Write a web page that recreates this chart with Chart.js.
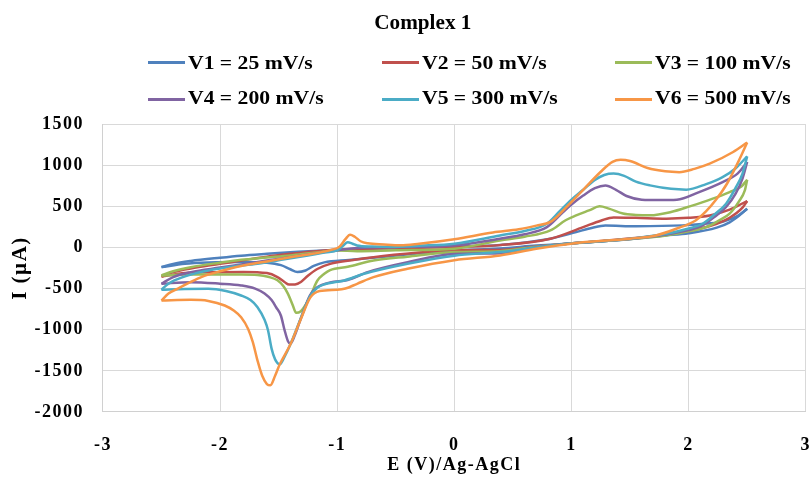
<!DOCTYPE html>
<html>
<head>
<meta charset="utf-8">
<script src="https://cdn.jsdelivr.net/npm/chart.js@4.4.1/dist/chart.umd.min.js"></script>
<style>
html,body{margin:0;padding:0;background:#fff;}
#wrap{position:relative;width:811px;height:480px;overflow:hidden;}
#c{position:absolute;left:0;top:0;}
.txt{position:absolute;font-family:"Liberation Serif","Times New Roman",serif;font-weight:bold;color:#000;white-space:nowrap;}
.sw{position:absolute;height:3px;width:37px;}
</style>
</head>
<body>
<div id="wrap">
<canvas id="c" width="811" height="480"></canvas>
<div id="title" class="txt" style="left:0;width:846px;top:10px;text-align:center;font-size:20px;line-height:24px;"><span style="display:inline-block;transform:scaleX(1.06);">Complex 1</span></div>
<div id="legend"></div>
</div>
<script>
// ---- data ----
const chartTitle = "Complex 1";
const seriesLabels = ["V1 = 25 mV/s", "V2 = 50 mV/s", "V3 = 100 mV/s", "V4 = 200 mV/s", "V5 = 300 mV/s", "V6 = 500 mV/s"];
const seriesColors = ["#4F81BD", "#C0504D", "#9BBB59", "#8064A2", "#4BACC6", "#F79646"];
const xTickValues = [-3, -2, -1, 0, 1, 2, 3];
const xTickLabels = ["-3", "-2", "-1", "0", "1", "2", "3"];
const yTickValues = [-2000, -1500, -1000, -500, 0, 500, 1000, 1500];
const yTickLabels = ["-2000", "-1500", "-1000", "-500", "0", "500", "1000", "1500"];

// anodic (forward, upper) and cathodic (reverse, lower) branches, [E (V), I (µA)]
const v1Anodic = [[-2.5,-239],[-2.4,-200],[-2.25,-165],[-2.0,-125],[-1.82,-100],[-1.6,-78],[-1.4,-60],[-1.2,-42],[-1.0,-28],[-0.7,-15],[-0.3,0],[0,12],[0.39,30],[0.82,106],[1.04,186],[1.18,240],[1.29,265],[1.55,258],[1.95,268],[2.15,290],[2.29,312],[2.42,385],[2.5,470]];
const v1Cathodic = [[-2.5,-239],[-2.3,-198],[-2.1,-182],[-1.8,-176],[-1.6,-185],[-1.48,-215],[-1.4,-265],[-1.34,-298],[-1.27,-280],[-1.2,-225],[-1.11,-182],[-0.9,-152],[-0.6,-112],[-0.3,-72],[0,-40],[0.39,-12],[0.7,22],[1.01,50],[1.4,90],[1.8,145],[2.0,172],[2.24,240],[2.35,305],[2.43,385],[2.5,470]];
const v2Anodic = [[-2.5,-355],[-2.4,-300],[-2.25,-255],[-2.0,-200],[-1.82,-160],[-1.6,-112],[-1.4,-78],[-1.2,-48],[-1.0,-28],[-0.83,-18],[-0.5,-8],[0,5],[0.39,28],[0.82,106],[1.1,247],[1.25,325],[1.36,365],[1.55,360],[1.81,350],[2.0,360],[2.18,389],[2.35,460],[2.5,564]];
const v2Cathodic = [[-2.5,-355],[-2.3,-312],[-2.1,-302],[-1.8,-298],[-1.6,-312],[-1.51,-360],[-1.45,-420],[-1.41,-452],[-1.36,-450],[-1.31,-420],[-1.25,-345],[-1.17,-262],[-1.06,-200],[-0.85,-150],[-0.69,-118],[-0.3,-62],[0,-30],[0.39,-30],[0.7,12],[1.01,50],[1.4,95],[1.95,186],[2.1,230],[2.24,288],[2.35,360],[2.46,483],[2.5,564]];
const v3Anodic = [[-2.5,-341],[-2.4,-290],[-2.25,-240],[-2.0,-185],[-1.82,-150],[-1.6,-122],[-1.4,-97],[-1.2,-65],[-1.0,-38],[-0.83,-45],[-0.5,-35],[0,-16],[0.39,85],[0.6,130],[0.82,207],[0.95,330],[1.04,389],[1.15,450],[1.24,499],[1.32,472],[1.44,412],[1.55,395],[1.67,390],[1.85,430],[2.01,499],[2.2,590],[2.35,673],[2.45,740],[2.5,823]];
const v3Cathodic = [[-2.5,-341],[-2.3,-330],[-2.1,-328],[-1.85,-330],[-1.68,-335],[-1.58,-360],[-1.51,-400],[-1.46,-470],[-1.42,-565],[-1.38,-700],[-1.35,-795],[-1.31,-775],[-1.27,-700],[-1.22,-560],[-1.17,-405],[-1.11,-320],[-1.06,-275],[-0.91,-235],[-0.69,-160],[-0.4,-112],[0,-57],[0.39,-45],[0.7,8],[1.01,50],[1.4,90],[1.81,146],[2.0,195],[2.15,247],[2.25,320],[2.35,410],[2.43,560],[2.48,693],[2.5,823]];
const v4Anodic = [[-2.5,-442],[-2.4,-360],[-2.25,-300],[-2.0,-245],[-1.82,-207],[-1.6,-160],[-1.4,-118],[-1.2,-75],[-1.0,-36],[-0.83,-6],[-0.5,5],[0,24],[0.39,106],[0.6,160],[0.79,247],[0.9,390],[1.0,520],[1.1,630],[1.2,720],[1.29,752],[1.38,700],[1.47,625],[1.6,580],[1.75,575],[1.9,580],[2.09,673],[2.29,794],[2.42,900],[2.5,1038]];
const v4Cathodic = [[-2.5,-442],[-2.25,-422],[-2.0,-440],[-1.82,-462],[-1.7,-500],[-1.62,-560],[-1.56,-640],[-1.52,-730],[-1.48,-830],[-1.45,-1000],[-1.42,-1140],[-1.4,-1170],[-1.36,-1060],[-1.31,-860],[-1.23,-575],[-1.17,-485],[-1.06,-425],[-0.91,-395],[-0.74,-300],[-0.4,-180],[0,-80],[0.39,-70],[0.7,2],[1.01,50],[1.4,90],[1.81,158],[2.0,210],[2.12,268],[2.22,370],[2.32,491],[2.4,650],[2.46,836],[2.5,1038]];
const v5Anodic = [[-2.5,-515],[-2.45,-450],[-2.39,-401],[-2.25,-330],[-2.1,-280],[-1.9,-235],[-1.68,-199],[-1.45,-145],[-1.25,-97],[-1.1,-60],[-1.0,-36],[-0.95,20],[-0.91,62],[-0.87,45],[-0.83,24],[-0.7,10],[-0.54,5],[-0.3,20],[0,45],[0.39,146],[0.6,200],[0.79,288],[0.9,440],[1.0,580],[1.1,700],[1.2,820],[1.28,880],[1.36,897],[1.45,870],[1.55,800],[1.67,754],[1.85,712],[1.98,702],[2.15,770],[2.29,855],[2.4,960],[2.5,1107]];
const v5Cathodic = [[-2.5,-515],[-2.3,-505],[-2.1,-503],[-1.95,-530],[-1.82,-584],[-1.74,-640],[-1.68,-726],[-1.62,-880],[-1.59,-1010],[-1.56,-1230],[-1.53,-1360],[-1.49,-1420],[-1.45,-1330],[-1.4,-1180],[-1.31,-860],[-1.23,-590],[-1.17,-490],[-1.1,-445],[-1.0,-418],[-0.94,-401],[-0.77,-320],[-0.4,-199],[0,-100],[0.39,-57],[0.7,0],[1.01,50],[1.4,90],[1.81,166],[2.0,230],[2.12,288],[2.22,400],[2.32,531],[2.4,720],[2.46,897],[2.5,1107]];
const v6Anodic = [[-2.5,-645],[-2.44,-560],[-2.36,-500],[-2.25,-420],[-2.16,-361],[-2.0,-290],[-1.82,-225],[-1.6,-170],[-1.4,-120],[-1.2,-75],[-1.05,-30],[-0.98,10],[-0.93,100],[-0.89,155],[-0.85,130],[-0.8,75],[-0.74,50],[-0.6,35],[-0.46,25],[-0.3,45],[0,100],[0.33,182],[0.55,220],[0.7,265],[0.82,310],[0.95,480],[1.1,700],[1.25,920],[1.35,1040],[1.42,1065],[1.5,1050],[1.65,965],[1.8,925],[1.92,915],[2.05,955],[2.18,1018],[2.38,1160],[2.5,1275]];
const v6Cathodic = [[-2.5,-645],[-2.25,-637],[-2.1,-650],[-1.96,-706],[-1.88,-770],[-1.82,-848],[-1.76,-990],[-1.72,-1150],[-1.68,-1375],[-1.64,-1560],[-1.6,-1660],[-1.57,-1675],[-1.53,-1560],[-1.49,-1420],[-1.4,-1180],[-1.31,-870],[-1.23,-610],[-1.15,-530],[-1.0,-515],[-0.93,-500],[-0.83,-442],[-0.69,-361],[-0.4,-260],[0,-155],[0.39,-97],[0.7,-16],[1.01,49],[1.5,106],[1.72,146],[1.9,230],[2.06,328],[2.15,440],[2.23,572],[2.33,780],[2.43,1058],[2.5,1275]];

const seriesBranches = [
  [v1Anodic, v1Cathodic],
  [v2Anodic, v2Cathodic],
  [v3Anodic, v3Cathodic],
  [v4Anodic, v4Cathodic],
  [v5Anodic, v5Cathodic],
  [v6Anodic, v6Cathodic]
];

// ---- legend (HTML) ----
const legendCols = [148, 382, 615];
const legendRowLine = [62, 99];
const legendRowText = [51, 86];
const legend = document.getElementById('legend');
seriesLabels.forEach((lab, i) => {
  const col = i % 3, row = Math.floor(i / 3);
  const sw = document.createElement('div');
  sw.className = 'sw';
  sw.style.left = legendCols[col] + 'px';
  sw.style.top = (legendRowLine[row] - 1.5) + 'px';
  sw.style.background = seriesColors[i];
  legend.appendChild(sw);
  const t = document.createElement('div');
  t.className = 'txt';
  t.style.left = (legendCols[col] + 40) + 'px';
  t.style.top = legendRowText[row] + 'px';
  t.style.fontSize = '18.5px';
  t.style.lineHeight = '24px';
  t.innerHTML = '<span style="display:inline-block;transform:scaleX(1.17);transform-origin:left center;"></span>';
  t.firstChild.textContent = lab;
  legend.appendChild(t);
});

// ---- chart ----
const toPts = a => a.map(p => ({x: p[0], y: p[1]}));
const datasets = [];
seriesBranches.forEach((br, i) => {
  br.forEach((arr, j) => {
    datasets.push({
      label: seriesLabels[i] + (j === 0 ? ' (anodic)' : ' (cathodic)'),
      data: toPts(arr),
      borderColor: seriesColors[i],
      backgroundColor: seriesColors[i],
      borderWidth: 2.5,
      pointRadius: 0,
      showLine: true,
      fill: false,
      tension: 0.4,
      cubicInterpolationMode: 'monotone',
      order: 6 - i
    });
  });
});

const serif = '"Liberation Serif","Times New Roman",serif';
const spacing = {
  id: 'spacing',
  beforeUpdate(chart) { chart.ctx.letterSpacing = '1.5px'; },
  beforeDraw(chart) { chart.ctx.letterSpacing = '1.5px'; }
};

new Chart(document.getElementById('c'), {
  type: 'scatter',
  data: { datasets },
  plugins: [spacing],
  options: {
    responsive: false,
    animation: false,
    devicePixelRatio: 1,
    layout: { padding: { top: 124, left: 0, right: 0, bottom: 0 } },
    plugins: { legend: { display: false }, title: { display: false }, tooltip: { enabled: false } },
    scales: {
      x: {
        type: 'linear', min: -3, max: 3,
        afterBuildTicks: s => { s.ticks = xTickValues.map(v => ({ value: v })); },
        ticks: {
          color: '#000', padding: 0,
          font: { family: serif, size: 18, weight: 'bold', lineHeight: 3.667 },
          callback: v => xTickLabels[xTickValues.indexOf(v)]
        },
        grid: { color: '#d9d9d9', lineWidth: 1, drawTicks: false },
        border: { color: '#d0d0d0' },
        title: { display: true, text: 'E (V)/Ag-AgCl', color: '#000', font: { family: serif, size: 18, weight: 'bold' }, padding: { top: -23.8, bottom: 4.2 } }
      },
      y: {
        type: 'linear', min: -2000, max: 1500,
        afterBuildTicks: s => { s.ticks = yTickValues.map(v => ({ value: v })); },
        ticks: {
          color: '#000', padding: 19,
          font: { family: serif, size: 18, weight: 'bold' },
          callback: v => yTickLabels[yTickValues.indexOf(v)]
        },
        grid: { color: '#d9d9d9', lineWidth: 1, drawTicks: false },
        border: { color: '#d0d0d0' },
        title: { display: true, text: 'I (µA)', color: '#000', font: { family: serif, size: 21, weight: 'bold' }, padding: { top: 8.4, bottom: -18.2 } }
      }
    }
  }
});
</script>
</body>
</html>
